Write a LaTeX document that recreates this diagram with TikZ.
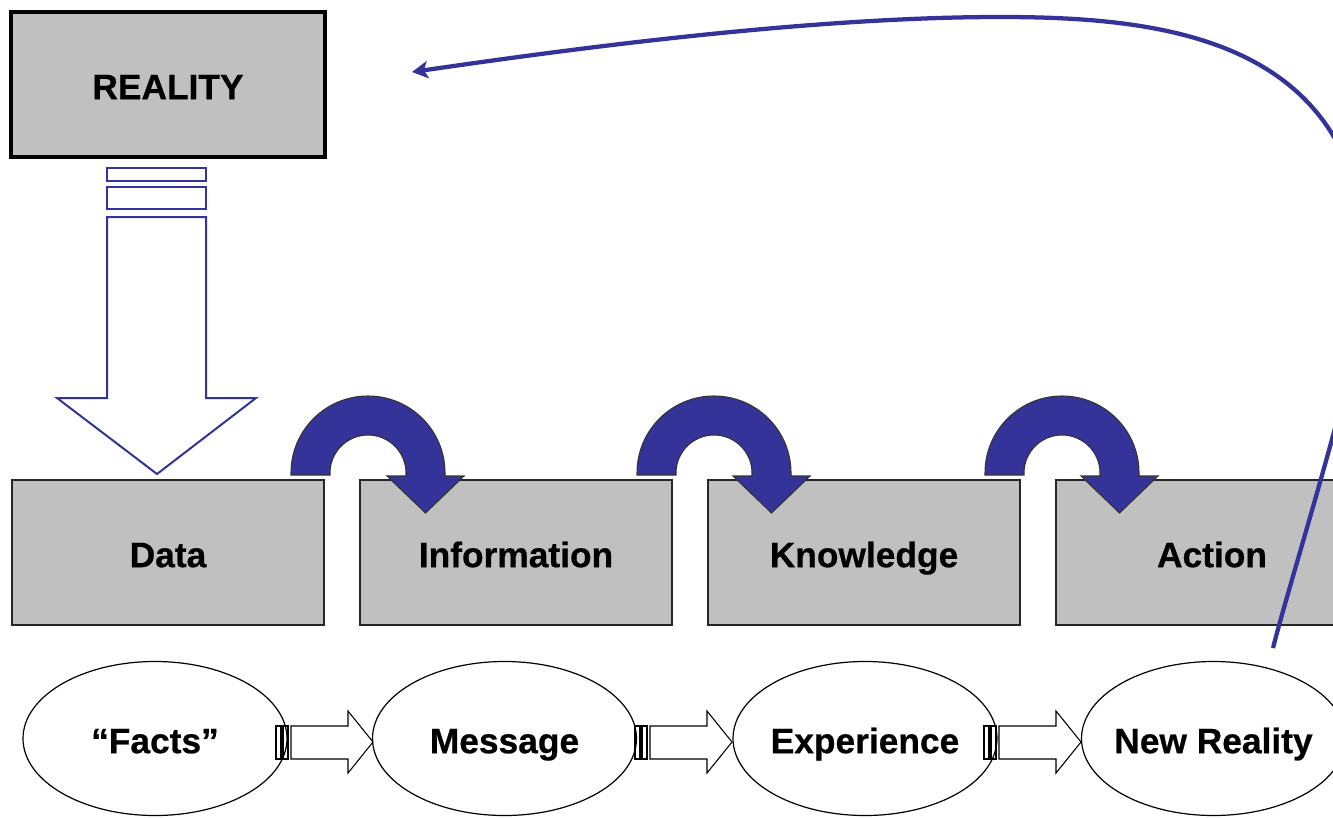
\documentclass[tikz,border=0pt]{standalone}
\usepackage{fontspec}
\setmainfont{Liberation Sans}[BoldFeatures={FakeBold=0.6}]
\usetikzlibrary{shapes.geometric,arrows.meta}
\definecolor{flowblue}{RGB}{51,51,153}
\definecolor{boxgray}{RGB}{192,192,192}
\begin{document}
\begin{tikzpicture}[x=0.75pt,y=-0.75pt,
  lbl/.style={font=\fontsize{26.5}{30}\selectfont\bfseries,
    text height=22pt, text depth=0pt},
  stagebox/.style={lbl, draw=black!85, line width=1.1pt, fill=boxgray,
    minimum width=234pt, minimum height=108.75pt, inner sep=0},
  oval/.style={lbl, ellipse, draw=black, line width=0.9pt,
    minimum width=198pt, minimum height=115.5pt, inner sep=0},
  hollow/.style={draw=flowblue, line width=1.5pt, fill=white},
  uturn/.style={fill=flowblue, draw=black!80, line width=0.8pt},
  smallarrow/.style={draw=black, line width=0.8pt, fill=white},
  feedback/.style={draw=flowblue, line width=3.2pt,
    -{Stealth[length=12pt,width=13pt,inset=3pt]}}
]
\useasboundingbox (0,0) rectangle (1333,817);
\fill[white] (0,0) rectangle (1333,817);
\clip (0,0) rectangle (1333,817);

% source box
\node[lbl, draw=black, line width=3pt, fill=boxgray, minimum width=235.5pt,
  minimum height=108.75pt, inner sep=0] (reality) at (168,84.5) {REALITY};

% stage boxes
\node[stagebox] (data)   at (168,552.5)  {Data};
\node[stagebox] (info)   at (516,552.5)  {Information};
\node[stagebox] (know)   at (864,552.5)  {Knowledge};
\node[stagebox] (action) at (1212,552.5) {Action};

% U-turn arrows between stages
\foreach \cx in {368,714,1062}{
  \draw[uturn] (\cx-77,475) -- (\cx-77,473)
    arc[start angle=180,end angle=0,radius=57.75pt]
    -- (\cx+77,476) -- (\cx+96,476) -- (\cx+57.5,513) -- (\cx+19,476)
    -- (\cx+38,476) -- (\cx+38,473)
    arc[start angle=0,end angle=180,radius=28.5pt]
    -- (\cx-38,475) -- cycle;
}

% striped block arrow from reality down to data
\draw[hollow] (107,168) rectangle (206,181);
\draw[hollow] (107,187) rectangle (206,209);
\draw[hollow] (107,217) -- (206,217) -- (206,398) -- (256,398) -- (157,474)
  -- (57,398) -- (107,398) -- cycle;

% small striped arrows between the ovals
\foreach \x in {276,635,984}{
  \draw[smallarrow] (\x,726) rectangle (\x+5,759);
  \draw[smallarrow] (\x+7,726) rectangle (\x+12,759);
  \draw[smallarrow] (\x+15,726) -- (\x+72,726) -- (\x+72,711) -- (\x+97,742)
    -- (\x+72,773) -- (\x+72,759) -- (\x+15,759) -- cycle;
}

% ovals (labels boxed at zero width so every oval keeps the same size)
\node[oval] (facts)   at (155,738.5)   {\makebox[0pt]{“Facts”}};
\node[oval] (message) at (504.5,738.5) {\makebox[0pt]{Message}};
\node[oval] (exper)   at (865,738.5)   {\makebox[0pt]{Experience}};
\node[oval] (newreal) at (1213.5,738.5) {\makebox[0pt]{New Reality}};

% feedback loop back to reality
\coordinate (fbstart) at (1273,648);
\coordinate (fbend) at (412,72);
\draw[feedback] (fbstart) .. controls (1290,580) and (1360,360) .. (1368,280)
  .. controls (1368,40) and (1170,17) .. (1000,17)
  .. controls (800,17) and (550,52) .. (fbend);
\end{tikzpicture}
\end{document}
